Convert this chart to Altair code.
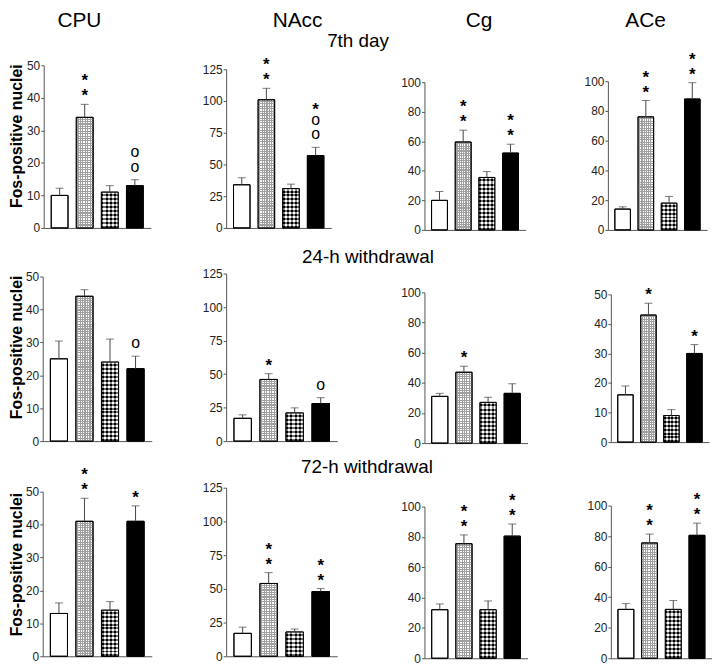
import altair as alt
import pandas as pd

# ---------------- data ----------------
regions = ["CPU", "NAcc", "Cg", "ACe"]
periods = ["7th day", "24-h withdrawal", "72-h withdrawal"]
groups = ["A", "B", "C", "D"]

day7_mean = [[10, 34, 11, 13], [34, 101, 31, 57], [20, 59.5, 35.5, 52], [14, 76, 18, 88]]
day7_sem = [[2.2, 4, 2, 1.8], [5.5, 9, 3.5, 6.5], [6, 8, 4, 6], [1.5, 11, 4.5, 11]]
day7_sig = [["", "**", "", "oo"], ["", "**", "", "*oo"], ["", "**", "", "**"], ["", "**", "", "**"]]

h24_mean = [[25, 44, 24, 22], [17, 46, 21, 28], [31, 47, 27, 33], [16, 43, 9, 30]]
h24_sem = [[5.4, 2, 7, 3.8], [2.6, 4.3, 3.8, 4.4], [2, 4, 3.4, 6.4], [3, 4, 2, 3]]
h24_sig = [["", "", "", "o"], ["", "*", "", "o"], ["", "*", "", ""], ["", "*", "", "*"]]

h72_mean = [[13, 41, 14, 41], [17, 54, 18, 48], [32, 75.5, 32, 80.5], [32, 75.5, 32, 80.5]]
h72_sem = [[3.2, 7, 2.6, 4.7], [4.6, 8, 2.2, 2.2], [3.8, 5.8, 5.8, 8], [3.8, 5.8, 5.8, 8]]
h72_sig = [["", "**", "", "*"], ["", "**", "", "**"], ["", "**", "", "**"], ["", "**", "", "**"]]

y_max = [[50, 125, 100, 100], [50, 125, 100, 50], [50, 125, 100, 100]]
y_title = "Fos-positive nuclei"

means = [day7_mean, h24_mean, h72_mean]
sems = [day7_sem, h24_sem, h72_sem]
sigs = [day7_sig, h24_sig, h72_sig]

# ---------------- layout (page pixels) ----------------
PAGE = 8
W, H = 710, 658
col_x = [
    [(44, 152), (228, 334), (428, 530), (613, 713)],
    [(43, 153), (228, 340), (428, 532), (616, 715)],
    [(43, 153), (228, 340), (428, 532), (616, 718)],
]
row_y = [
    [(227, 63), (227, 67), (229, 80), (229, 79)],
    [(442, 276), (442, 273), (444, 292), (443, 294)],
    [(659, 493), (659, 489), (661, 508), (661, 507)],
]
ytitle_center = [134, 347, 566]
col_title_pos = [(80, 24), (300, 24), (483, 24), (651, 24)]
row_title_pos = [(361, 45), (371, 262), (370, 474)]

FONT = "Liberation Sans"
SIG_SIZE = {"*": 17, "o": 16}
SIG_WEIGHT = {"*": "bold", "o": "normal"}
SIG_STEP = 15
SIG_DY = {"*": -3, "o": -8}


def stripes(c1, c2, n, frac, vertical=False):
    stops = []
    for i in range(n):
        a, b, e = i / n, (i + frac) / n, (i + 1) / n
        stops += [
            {"offset": a, "color": c1},
            {"offset": b, "color": c1},
            {"offset": b, "color": c2},
            {"offset": e, "color": c2},
        ]
    if vertical:
        return {"gradient": "linear", "x1": 0, "y1": 0, "x2": 0, "y2": 1, "stops": stops}
    return {"gradient": "linear", "x1": 0, "y1": 0, "x2": 1, "y2": 0, "stops": stops}


DOT_GREY = "#a0a0a0"
DOTTED = stripes("#ffffff", DOT_GREY, 7, 0.5)
CHECK = stripes("#000000", "#ffffff", 4, 0.5)

fill_def = alt.FillValue(
    value="#ffffff",
    condition=[
        {"test": "datum.group === 'B'", "value": DOTTED},
        {"test": "datum.group === 'C'", "value": CHECK},
        {"test": "datum.group === 'D'", "value": "#000000"},
    ],
)


def panel(r, c):
    x0, x1 = col_x[r][c]
    yb, yt = row_y[r][c]
    ym = y_max[r][c]
    step = {50: 10, 125: 25, 100: 20}[ym]
    ticks = list(range(0, ym + 1, step))

    df = pd.DataFrame({"group": groups, "value": means[r][c], "sem": sems[r][c]})
    df["top"] = df["value"] + df["sem"]
    bar_px = [v / ym * (yb - yt) for v in means[r][c]]
    # row textures: dot rows about every 2.4 px, checker rows every 2 px
    df["tex"] = [
        stripes("rgba(0,0,0,0)", DOT_GREY, max(1, round(h / 2.4)), 0.55, vertical=True)
        if g == "B"
        else stripes("rgba(255,255,255,0.55)", "rgba(0,0,0,0.55)", max(1, round(h / 4)), 0.5, vertical=True)
        for g, h in zip(groups, bar_px)
    ]

    rows = []
    for g, v, s, marks in zip(groups, means[r][c], sems[r][c], sigs[r][c]):
        for i, ch in enumerate(marks):
            rows.append({"group": g, "top": v + s, "sym": ch, "level": len(marks) - 1 - i})
    sig_df = pd.DataFrame(rows, columns=["group", "top", "sym", "level"])

    xenc = alt.X(
        "group:N",
        sort=groups,
        scale=alt.Scale(domain=groups, range=[x0 - PAGE, x1 - PAGE], paddingInner=0.33, paddingOuter=0.3),
        axis=alt.Axis(
            orient="bottom", offset=(yb - PAGE) - H, labels=False, ticks=False, title=None,
            domainColor="#555555", domainWidth=1, grid=False,
        ),
    )
    yax = dict(
        orient="left", offset=-(x0 - PAGE), values=ticks, grid=False,
        tickSize=3, tickColor="#555555", domainColor="#555555", labelPadding=1,
        labelFont=FONT, labelFontSize=12, labelColor="#222222",
    )
    if c == 0:
        yax.update(
            title=y_title, titleFont=FONT, titleFontSize=16, titleFontWeight="bold",
            titleColor="#000000", titleAngle=270, titleX=22 - x0,
            titleY=ytitle_center[r] - PAGE, titleAlign="center", titleBaseline="alphabetic",
        )
    else:
        yax["title"] = None
    yscale = alt.Scale(domain=[0, ym], range=[yb - PAGE, yt - PAGE], nice=False, zero=True)
    axis = alt.Axis(**yax)

    base = alt.Chart(df)
    bars = base.mark_bar(stroke="#000000", strokeWidth=1).encode(
        x=xenc, y=alt.Y("value:Q", scale=yscale, axis=axis), fill=fill_def
    )
    texture = (
        base.transform_filter("datum.group === 'B' || datum.group === 'C'")
        .mark_bar(strokeWidth=0)
        .encode(x=xenc, y=alt.Y("value:Q", scale=yscale, axis=axis), fill=alt.Fill("tex:N", scale=None))
    )
    outline = base.mark_bar(stroke="#000000", strokeWidth=1, fillOpacity=0).encode(
        x=xenc, y=alt.Y("value:Q", scale=yscale, axis=axis)
    )
    rule = base.mark_rule(color="#444444", strokeWidth=1).encode(
        x=xenc, y=alt.Y("value:Q", scale=yscale, axis=axis), y2="top:Q"
    )
    cap = base.mark_tick(color="#444444", thickness=1, size=8, orient="horizontal").encode(
        x=xenc, y=alt.Y("top:Q", scale=yscale, axis=axis)
    )
    layers = [bars, texture, outline, rule, cap]

    combos = sorted(set(zip(sig_df["level"], sig_df["sym"])))
    for lvl, sym in combos:
        t = (
            alt.Chart(sig_df)
            .transform_filter(f"datum.level == {lvl} && datum.sym == '{sym}'")
            .mark_text(
                font=FONT, fontSize=SIG_SIZE[sym], fontWeight=SIG_WEIGHT[sym], baseline="alphabetic",
                dy=SIG_DY[sym] - SIG_STEP * int(lvl), color="#000000",
            )
            .encode(x=xenc, y=alt.Y("top:Q", scale=yscale, axis=axis), text="sym:N")
        )
        layers.append(t)
    return alt.layer(*layers)


def label(txt, x, y, size):
    return alt.Chart(alt.Data(values=[{"t": txt}])).mark_text(
        font=FONT, fontSize=size, align="center", baseline="alphabetic", color="#000000"
    ).encode(x=alt.value(x - PAGE), y=alt.value(y - PAGE), text="t:N")


panels = [panel(r, c) for r in range(3) for c in range(4)]
labels = [label(regions[i], *col_title_pos[i], 21) for i in range(4)]
labels += [label(periods[i], *row_title_pos[i], 19) for i in range(3)]

chart = (
    alt.layer(*panels, *labels)
    .resolve_scale(x="independent", y="independent")
    .properties(width=W, height=H, autosize=alt.AutoSizeParams(type="none"), padding=0)
    .configure_view(strokeWidth=0)
)

chart.save("out.html", embed_options={"renderer": "svg", "actions": False})
